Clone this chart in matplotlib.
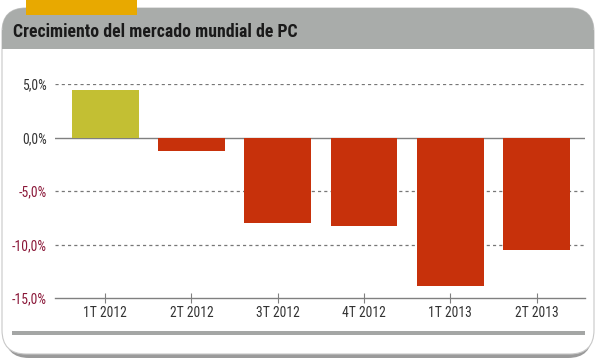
import matplotlib
matplotlib.use("Agg")
import matplotlib.pyplot as plt
from matplotlib.patches import FancyBboxPatch, Rectangle
from matplotlib import font_manager as fm

categories = ["1T 2012", "2T 2012", "3T 2012", "4T 2012", "1T 2013", "2T 2013"]
values = [4.4, -1.3, -8.0, -8.3, -13.9, -10.5]
yticks = [5, 0, -5, -10, -15]
ytick_labels = ["5,0%", "0,0%", "-5,0%", "-10,0%", "-15,0%"]
title = "Crecimiento del mercado mundial de PC"

names = {f.name for f in fm.fontManager.ttflist}
fam = None
for cand in ["Liberation Sans Narrow", "DejaVu Sans Condensed", "Roboto Condensed", "Open Sans Condensed"]:
    if cand in names:
        fam = cand
        break
stretch = "normal"
if fam is None:
    fam = "DejaVu Sans"
    stretch = "condensed"

W, H = 600, 363
fig = plt.figure(figsize=(W / 100, H / 100), dpi=100)
fig.patch.set_facecolor("white")

def fx(px):
    return px / W

def fy(py):
    return 1 - py / H

# shadow
fig.patches.append(FancyBboxPatch((fx(5), fy(358)), fx(592) - fx(5), fy(12) - fy(358),
                                  boxstyle="round,pad=0,rounding_size=0.04",
                                  transform=fig.transFigure, facecolor="#9a9a9a",
                                  edgecolor="none", zorder=0, mutation_aspect=W / H))
# white card
fig.patches.append(FancyBboxPatch((fx(2), fy(354)), fx(594) - fx(2), fy(8) - fy(354),
                                  boxstyle="round,pad=0,rounding_size=0.04",
                                  transform=fig.transFigure, facecolor="white",
                                  edgecolor="#c8c8c8", linewidth=0.8, zorder=1,
                                  mutation_aspect=W / H))
# gray title band (rounded top)
fig.patches.append(FancyBboxPatch((fx(2), fy(49)), fx(594) - fx(2), fy(8) - fy(49),
                                  boxstyle="round,pad=0,rounding_size=0.04",
                                  transform=fig.transFigure, facecolor="#a9acaa",
                                  edgecolor="none", zorder=2, mutation_aspect=W / H))
fig.patches.append(Rectangle((fx(2), fy(49)), fx(594) - fx(2), fy(30) - fy(49),
                             transform=fig.transFigure, facecolor="#a9acaa",
                             edgecolor="none", zorder=2))
# orange tab
fig.patches.append(Rectangle((fx(26), fy(15)), fx(137) - fx(26), fy(0) - fy(15),
                             transform=fig.transFigure, facecolor="#e8a900",
                             edgecolor="none", zorder=3))
# bottom gray bar
fig.patches.append(Rectangle((fx(12), fy(334.5)), fx(585) - fx(12), fy(330.5) - fy(334.5),
                             transform=fig.transFigure, facecolor="#a4a6a5",
                             edgecolor="none", zorder=3))

fig.text(fx(13), fy(32), title, fontsize=12.8, fontweight="bold", family=fam,
         fontstretch=stretch, color="#1a1a1a", va="center", ha="left", zorder=5)

ax = fig.add_axes([fx(55), fy(298), fx(585) - fx(55), fy(84) - fy(298)])
ax.set_facecolor("none")
ax.set_zorder(4)

colors = ["#c3bf33" if v >= 0 else "#c7310b" for v in values]
x = list(range(len(categories)))
ax.bar(x, values, width=0.775, color=colors, zorder=3)

ax.set_xlim(-0.58, 5.56)
ax.set_ylim(-15, 5)

for t in [5, -5, -10]:
    ax.axhline(t, color="#777777", linestyle=(0, (2.5, 2.5)), linewidth=0.9, zorder=1)
ax.axhline(0, color="#808080", linewidth=1.0, zorder=2)

for s in ["top", "right", "left"]:
    ax.spines[s].set_visible(False)
ax.spines["bottom"].set_color("#808080")
ax.spines["bottom"].set_linewidth(1.0)

ax.set_yticks(yticks)
ax.set_yticklabels(ytick_labels)
ax.tick_params(axis="y", length=0, pad=6, labelsize=9.8)
for lab, v in zip(ax.get_yticklabels(), yticks):
    lab.set_family(fam)
    lab.set_fontstretch(stretch)
    lab.set_color("#8a1738" if v < 0 else "#333333")

ax.set_xticks(x)
ax.set_xticklabels(categories)
ax.tick_params(axis="x", direction="inout", length=7, color="#808080", pad=2, labelsize=9.8,
               labelcolor="#333333")
for lab in ax.get_xticklabels():
    lab.set_family(fam)
    lab.set_fontstretch(stretch)

fig.savefig("out.png", dpi=100, facecolor="white")
